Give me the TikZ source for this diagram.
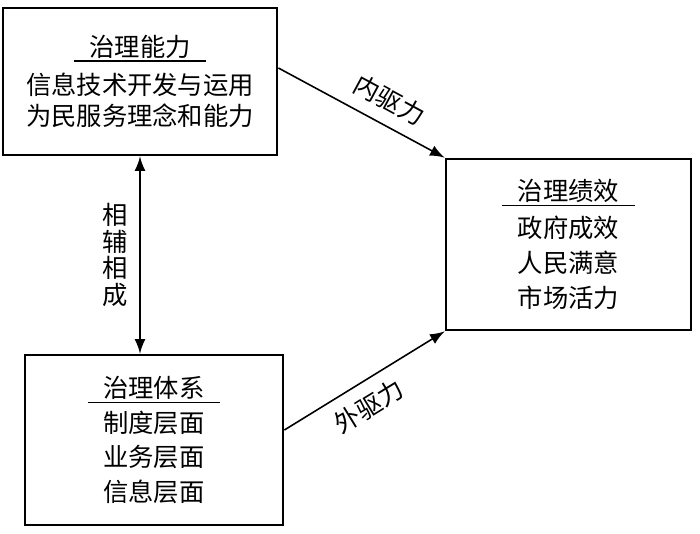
\documentclass[tikz,border=0pt]{standalone}
\usepackage{fontspec}
\newfontfamily\cjk{Noto Sans CJK SC}
\usetikzlibrary{arrows,positioning,calc}

\newcommand\headline[1]{\underline{\hspace{4.5pt}\raisebox{0pt}[\height][0pt]{#1}\hspace{4.5pt}}}

\begin{document}
\begin{tikzpicture}[x=0.01cm,y=-0.01cm,
  every node/.style={font=\cjk\fontsize{7.2}{9.9}\selectfont},
  box/.style={draw, line width=0.75pt, align=center, inner sep=0pt},
  drive/.style={->, >=latex, line width=0.45pt}]

\useasboundingbox (0,0) rectangle (700,533);

% the three boxes
\node[box, minimum width=2.74cm, minimum height=1.47cm, font=\cjk\fontsize{7.2}{8.8}\selectfont] (ability) at (140,81.5)
  {\headline{治理能力}\\[2.2pt] 信息技术开发与运用\\ 为民服务理念和能力};
\node[box, minimum width=2.45cm, minimum height=1.71cm] (performance) at (568.5,244.5)
  {\headline{治理绩效}\\[0.6pt] 政府成效\\ 人民满意\\ 市场活力};
\node[box, minimum width=2.58cm, minimum height=1.70cm] (system) at (154,440)
  {\headline{治理体系}\\ 制度层面\\ 业务层面\\ 信息层面};

% the two drives
\draw[drive] ([yshift=0.135cm]ability.east) -- node[pos=0.6, sloped, above] (inner) {内驱力} (performance.north west);
\draw[drive] ([yshift=0.1cm]system.east) -- node[pos=0.45, sloped, below] (outer) {外驱力} (performance.south west);

% ability and system
\draw[<->, >=latex, line width=0.45pt] (ability.south) -- node[midway, left=0pt, align=center, font=\cjk\fontsize{7.2}{7.6}\selectfont] (mutual) {相\\辅\\相\\成} (ability.south |- system.north);

\end{tikzpicture}
\end{document}
